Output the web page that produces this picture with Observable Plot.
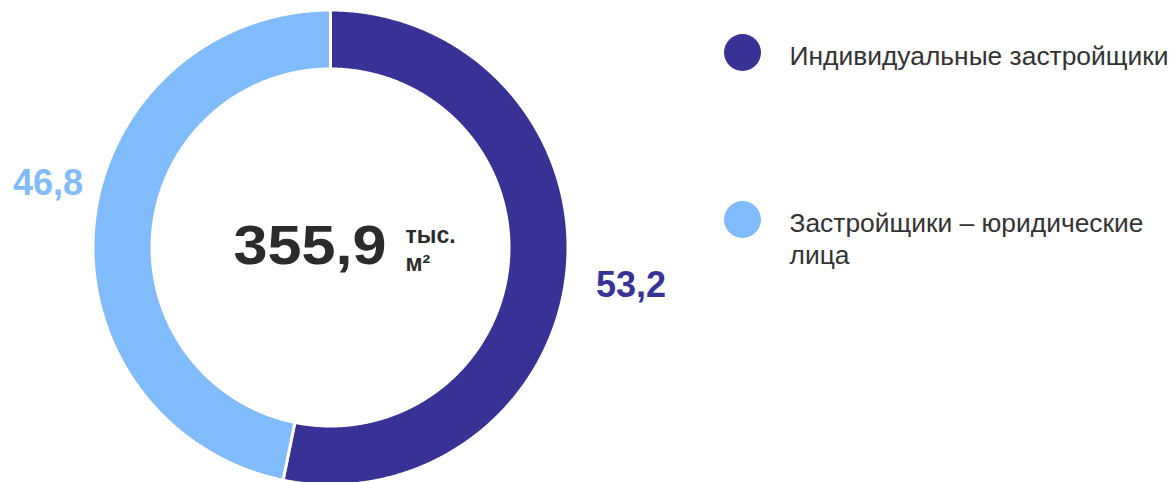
<!DOCTYPE html>
<html><head><meta charset="utf-8">
<script src="https://cdn.jsdelivr.net/npm/d3@7"></script>
<script src="https://cdn.jsdelivr.net/npm/@observablehq/plot@0.6"></script>
<style>html,body{margin:0;padding:0;background:#fff;} #chart svg{display:block;}</style>
</head><body><div id="chart"></div>
<script>
// ---- data ----
const categories = ["Индивидуальные застройщики", "Застройщики – юридические лица"];
const legendLabels = ["Индивидуальные застройщики", "Застройщики – юридические\nлица"];
const shares = [53.2, 46.8];
const colors = ["#383296", "#80bcfc"];
const total = [355.9];
const totalUnit = ["тыс.\nм²"];

// ---- layout ----
const W = 1176, H = 482;
const cx = 330, cy = 247, R = 237.5, r0 = 178.5;
const font = "'Liberation Sans', Arial, sans-serif";
const fmt = v => v.toFixed(1).replace(".", ",");

const slices = d3.pie().sort(null).value(d => d.value)(categories.map((name, i) => ({name, value: shares[i]})));

const ringPts = [];
slices.forEach(s => {
  const n = Math.max(2, Math.ceil((s.endAngle - s.startAngle) / 0.004));
  const pts = [];
  for (let k = 0; k <= n; k++) pts.push([s.startAngle + (s.endAngle - s.startAngle) * k / n, R]);
  for (let k = n; k >= 0; k--) pts.push([s.startAngle + (s.endAngle - s.startAngle) * k / n, r0]);
  pts.push(pts[0]);
  pts.forEach(([a, rad]) => ringPts.push({name: s.data.name, x: cx + rad * Math.sin(a), y: cy - rad * Math.cos(a)}));
});

const mid = s => (s.startAngle + s.endAngle) / 2;
const Rl = 293;
const labelMark = (i, dx, dy) => Plot.text(slices.filter((s, j) => j === i), {
  x: s => cx + Rl * Math.sin(mid(s)),
  y: s => cy - Rl * Math.cos(mid(s)),
  text: s => fmt(s.data.value),
  fill: s => s.data.name,
  dx, dy,
  textAnchor: "middle", lineAnchor: "bottom",
  fontSize: 36, fontWeight: "bold"
});

const legendX = 742, legendY0 = 52, legendStep = 167;

const chart = Plot.plot({
  width: W, height: H, margin: 0,
  style: {fontFamily: font, background: "white"},
  x: {domain: [0, W], range: [0, W], axis: null},
  y: {domain: [0, H], range: [0, H], axis: null},
  color: {domain: categories, range: colors},
  marks: [
    Plot.line(ringPts, {x: "x", y: "y", z: "name", fill: "name", stroke: "white", strokeWidth: 3, curve: "linear"}),
    labelMark(0, 9, 20),
    labelMark(1, 9, -23),
    Plot.text(total, {x: 386, y: 263, text: d => fmt(d), textAnchor: "end", lineAnchor: "bottom",
      fontSize: 56, fontWeight: "bold", fill: "#2b2b2e"}),
    Plot.text(totalUnit, {x: 405, y: 270, text: d => d, textAnchor: "start", lineAnchor: "bottom",
      fontSize: 23, fontWeight: "bold", lineHeight: 1.18, fill: "#2b2b2e"}),
    Plot.dot(categories, {x: legendX, y: (d, i) => legendY0 + i * legendStep, r: 18.5, fill: d => d, stroke: null}),
    Plot.text(legendLabels, {x: 789, y: (d, i) => legendY0 + i * legendStep, text: d => d, textAnchor: "start",
      lineAnchor: "top", dy: -10, fontSize: 26.4, lineHeight: 1.212, fill: "#333333"})
  ]
});

chart.querySelectorAll("text").forEach(t => {
  if (t.textContent === fmt(total[0])) {
    t.setAttribute("textLength", 153);
    t.setAttribute("lengthAdjust", "spacingAndGlyphs");
  }
});
document.getElementById("chart").appendChild(chart);
</script>
</body></html>
